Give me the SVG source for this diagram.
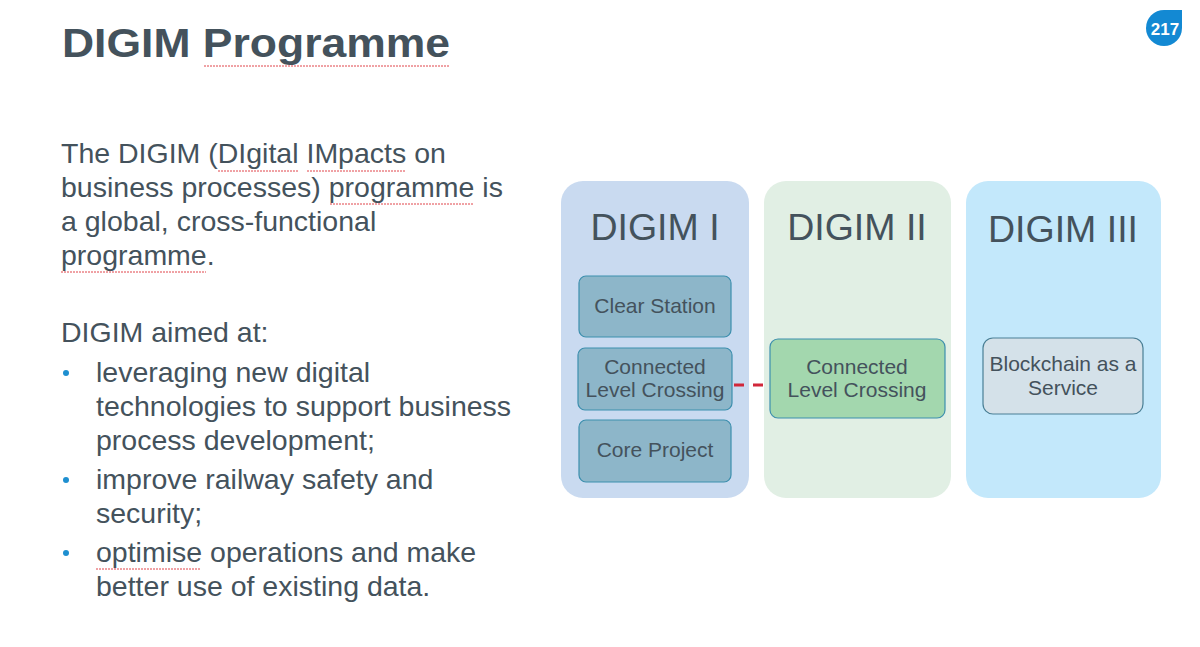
<svg xmlns="http://www.w3.org/2000/svg" width="1200" height="647" viewBox="0 0 1200 647">
<style>
text{font-family:"Liberation Sans",Arial,Helvetica,sans-serif;fill:#44525c}
.body{font-size:28.5px}
.col{font-size:37.5px;text-anchor:middle}
.box{font-size:21px;text-anchor:middle}
.sq{fill:none;stroke:#e0454a;stroke-width:1;stroke-dasharray:2 1}
.bul{fill:#1e8fd0}
</style>
<rect width="1200" height="647" fill="#fff"/>
<text x="62" y="57" font-size="40" font-weight="bold" textLength="388" lengthAdjust="spacingAndGlyphs">DIGIM Programme</text>
<g class="sq">
<path d="M204 66 L450 66"/>
<path d="M218 171 L298 171 M307 171 L405 171 M330 204 L474 204 M61 272 L206 272 M96 569 L201 569"/>
</g>
<g>
<text class="body" x="61" y="163">The DIGIM (DIgital IMpacts on</text>
<text class="body" x="61" y="197">business processes) programme is</text>
<text class="body" x="61" y="231">a global, cross-functional</text>
<text class="body" x="61" y="265">programme.</text>
<text class="body" x="61" y="342">DIGIM aimed at:</text>
<text class="body" x="96" y="382">leveraging new digital</text>
<text class="body" x="96" y="416">technologies to support business</text>
<text class="body" x="96" y="450">process development;</text>
<text class="body" x="96" y="489">improve railway safety and</text>
<text class="body" x="96" y="523">security;</text>
<text class="body" x="96" y="562">optimise operations and make</text>
<text class="body" x="96" y="596">better use of existing data.</text>
<circle class="bul" cx="66" cy="373" r="3"/>
<circle class="bul" cx="66" cy="480" r="3"/>
<circle class="bul" cx="66" cy="553" r="3"/>
</g>
<g id="badge">
<path d="M1182 10 L1182 28 A18 18 0 1 1 1164 10 Z" fill="#1389d3"/>
<text x="1165" y="35" font-size="17" font-weight="bold" text-anchor="middle" style="fill:#fff">217</text>
</g>
<g id="digim1">
<rect x="561" y="181" width="188" height="317" rx="22" fill="#c9daf0"/>
<text class="col" x="655" y="240">DIGIM I</text>
</g>
<g id="digim2">
<rect x="764" y="181" width="187" height="317" rx="22" fill="#e1efe4"/>
<text class="col" x="857" y="240">DIGIM II</text>
</g>
<g id="digim3">
<rect x="966" y="181" width="195" height="317" rx="22" fill="#c3e8fb"/>
<text class="col" x="1063" y="242">DIGIM III</text>
</g>
<g id="clear-station">
<rect x="579" y="276" width="152" height="61" rx="7" fill="#8db6c9" stroke="#3d8fae" stroke-width="1.2"/>
<text class="box" x="655" y="313">Clear Station</text>
</g>
<g id="clc1">
<rect x="578" y="348" width="154" height="62" rx="7" fill="#8db6c9" stroke="#3d8fae" stroke-width="1.2"/>
<text class="box" x="655" y="374">Connected</text>
<text class="box" x="655" y="397">Level Crossing</text>
</g>
<g id="core-project">
<rect x="579" y="420" width="152" height="62" rx="7" fill="#8db6c9" stroke="#3d8fae" stroke-width="1.2"/>
<text class="box" x="655" y="457">Core Project</text>
</g>
<g id="clc2">
<rect x="770" y="339" width="175" height="79" rx="8" fill="#a3d7ae" stroke="#3d8fae" stroke-width="1.2"/>
<text class="box" x="857" y="374">Connected</text>
<text class="box" x="857" y="397">Level Crossing</text>
</g>
<g id="blockchain">
<rect x="983" y="338" width="160" height="76" rx="10" fill="#d4e1e9" stroke="#4a7f95" stroke-width="1.2"/>
<text class="box" x="1063" y="371">Blockchain as a</text>
<text class="box" x="1063" y="395">Service</text>
</g>
<g id="connectors">
<line x1="734" y1="385" x2="765" y2="385" stroke="#d1273a" stroke-width="3" stroke-dasharray="10 9"/>
</g>
</svg>
